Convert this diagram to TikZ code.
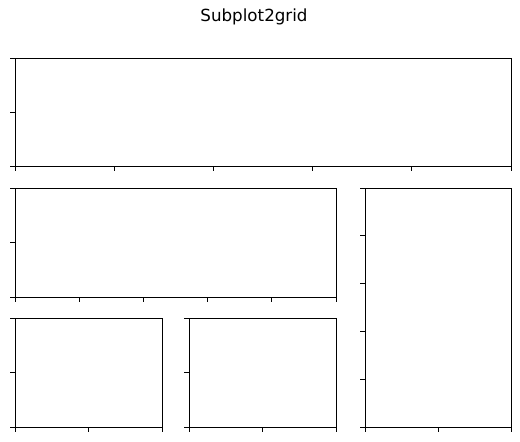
\documentclass[tikz,border=0pt]{standalone}
\usepackage{fontspec}
\setmainfont{DejaVu Sans}
\usetikzlibrary{calc}

\begin{document}
\begin{tikzpicture}[x=1pt, y=-1pt, line width=0.95pt,
      every node/.append style={inner sep=0pt, outer sep=0pt},
      axbox/.style={draw, anchor=north west},
      tickmark/.style={line width=0.95pt}]
    \useasboundingbox (0,0) rectangle (520,442);
    \node (title) at (254,17) {\fontsize{16.7}{20}\selectfont Subplot2grid};
    % the five axes of the grid
    \node (axA) [axbox, minimum width=496pt, minimum height=108pt] at (15,58) {};
    \node (axB) [axbox, minimum width=321pt, minimum height=109pt] at (15,188) {};
    \node (axC) [axbox, minimum width=146pt, minimum height=239pt] at (365,188) {};
    \node (axD) [axbox, minimum width=147pt, minimum height=109pt] at (15,318) {};
    \node (axE) [axbox, minimum width=147pt, minimum height=109pt] at (189,318) {};
    % x ticks
    \foreach \ax/\n in {axA/5, axB/5, axC/2, axD/2, axE/2}
      \foreach \i in {0,...,\n}
        \draw[tickmark] ($(\ax.south west)!\i/\n!(\ax.south east)$) -- ++(0,4.9);
    % y ticks
    \foreach \ax/\n in {axA/2, axB/2, axC/5, axD/2, axE/2}
      \foreach \i in {0,...,\n}
        \draw[tickmark] ($(\ax.south west)!\i/\n!(\ax.north west)$) -- ++(-4.9,0);
\end{tikzpicture}
\end{document}
